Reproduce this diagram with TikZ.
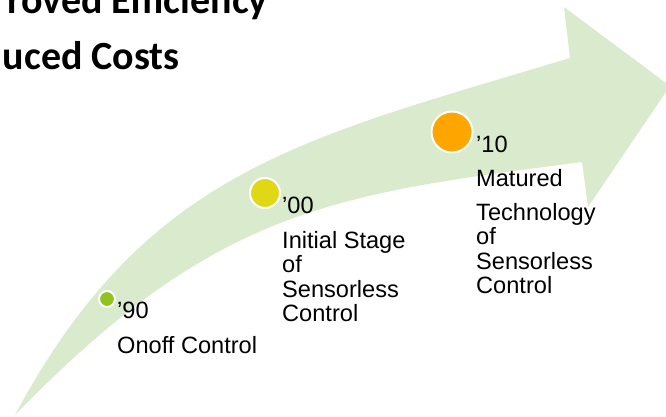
\documentclass[tikz,border=0pt]{standalone}
\usepackage{fontspec}
\setmainfont{Liberation Sans}
\newfontfamily\titlefont{Carlito}
\usepackage{tikz}
\usetikzlibrary{positioning}
\definecolor{arrowgreen}{RGB}{218,234,205}
\definecolor{dotgreen}{RGB}{146,194,30}
\definecolor{dotyellow}{RGB}{224,216,20}
\definecolor{dotorange}{RGB}{255,165,0}

\begin{document}
\begin{tikzpicture}[x=1pt, y=-1pt,
    dot/.style={circle, draw=white, line width=2pt, inner sep=0pt},
    yeartext/.style={anchor=base west, inner sep=0pt, font=\fontsize{23.6}{24.5}\selectfont},
    headline/.style={anchor=base east, inner sep=0pt, font=\titlefont\bfseries\fontsize{40}{48}\selectfont}]
    \useasboundingbox (0,0) rectangle (666,417);
    \clip (0,0) rectangle (666,417);

    % Curved arrow
    \fill[arrowgreen] (15,415) .. controls (147,169) and (302,139) .. (570,58)
        -- (564,7) -- (670,86) -- (588,207) -- (582,162)
        .. controls (334,194.5) and (217,207) .. (15,415) -- cycle;

    % Headline (cut at the left border)
    \node[headline] (eff) at (268,14) {roved Efficiency};
    \node[headline] (cost) at (180,70) {uced Costs};

    % Milestones
    \node[dot, fill=dotgreen, minimum size=16] (d90) at (107,299) {};
    \node[dot, fill=dotyellow, minimum size=30] (d00) at (265,193) {};
    \node[dot, fill=dotorange, minimum size=41] (d10) at (452,132) {};

    % Years and descriptions
    \node[yeartext] (y90) at (117,318) {’90};
    \node[yeartext] (t90) at (117,353) {Onoff Control};

    \node[yeartext] (y00) at (282,213) {’00};
    \node[yeartext] (t00) at (282,248) {\begin{tabular}[t]{@{}l@{}}Initial Stage\\of\\Sensorless\\Control\end{tabular}};

    \node[yeartext] (y10) at (476,152) {’10};
    \node[yeartext] (m10) at (476,186) {Matured};
    \node[yeartext] (t10) at (476,220) {\begin{tabular}[t]{@{}l@{}}Technology\\of\\Sensorless\\Control\end{tabular}};
\end{tikzpicture}
\end{document}
